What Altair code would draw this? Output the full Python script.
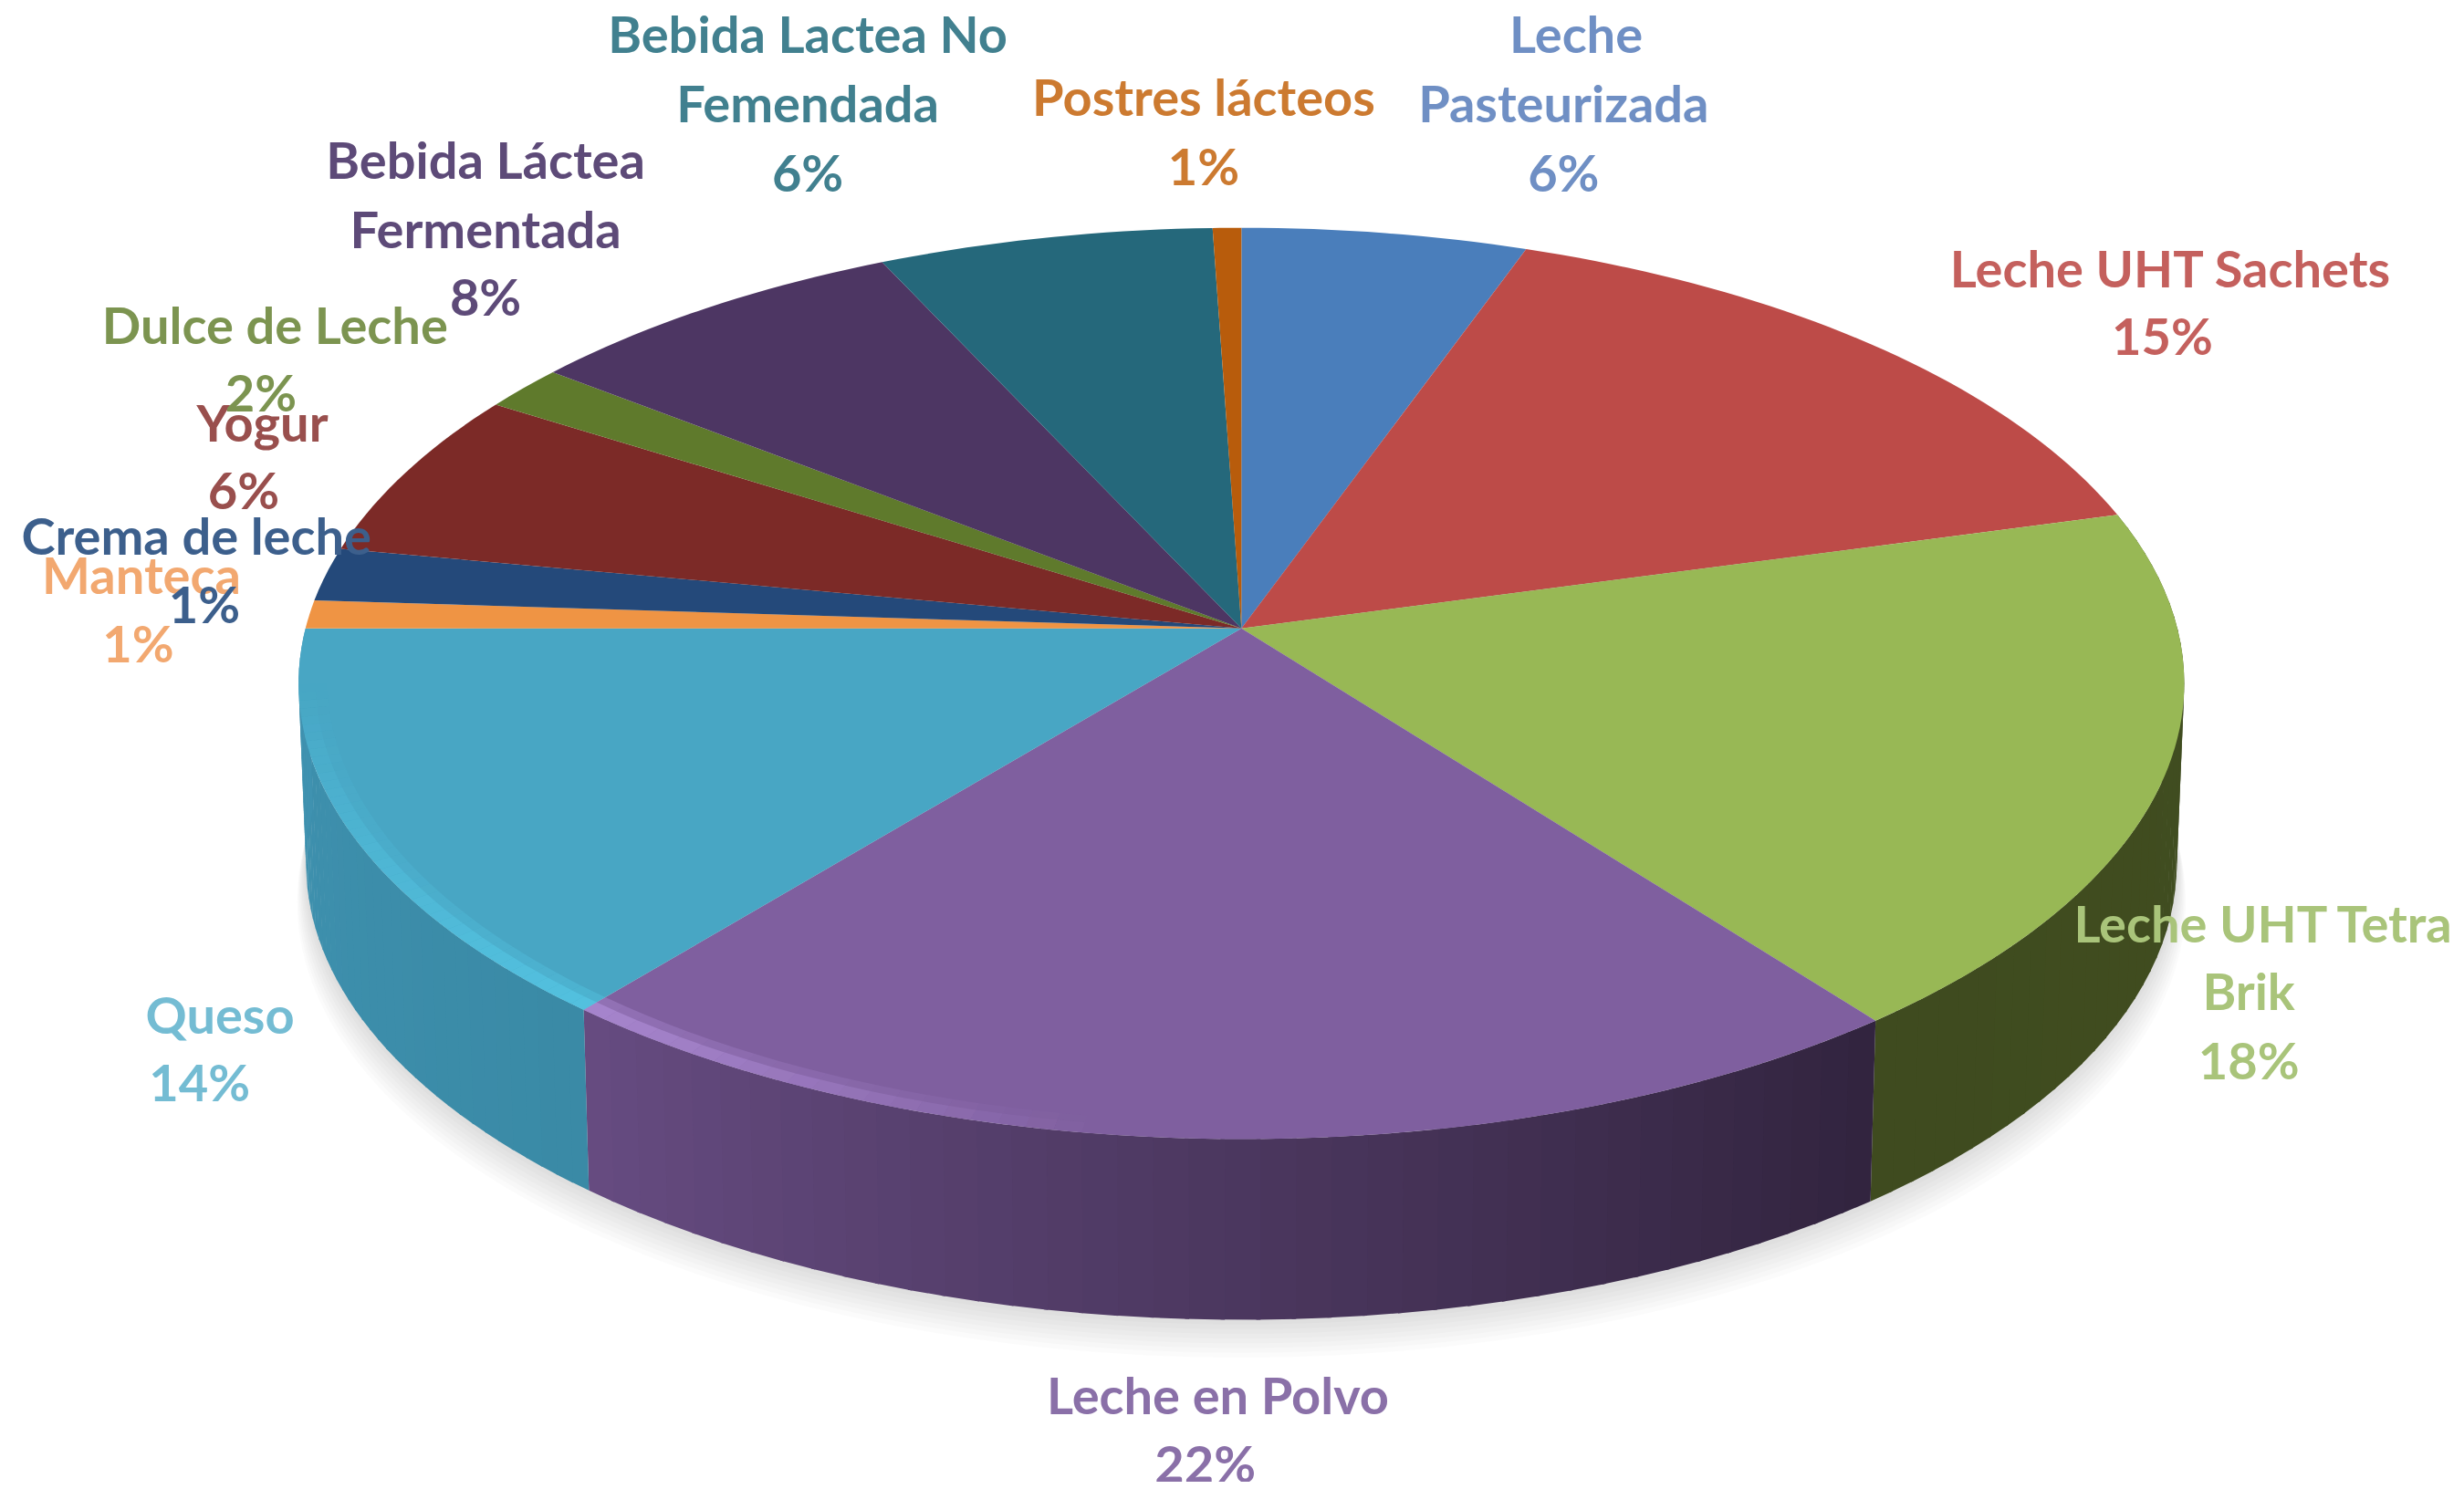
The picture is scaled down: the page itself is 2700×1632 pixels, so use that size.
import math
import altair as alt

# ---- chart values (shares; the printed labels are rounded)
categories = ["Leche Pasteurizada", "Leche UHT Sachets", "Leche UHT Tetra Brik", "Leche en Polvo",
              "Queso", "Manteca", "Crema de leche", "Yogur", "Dulce de Leche",
              "Bebida Láctea Fermentada", "Bebida Lactea No Femendada", "Postres lácteos"]
shares = [5.5, 15.3, 18.7, 21.5, 14.0, 1.0, 1.9, 6.0, 1.6, 7.5, 6.45, 0.55]
top_colors = ["#4a7ebb", "#bd4b48", "#98b855", "#7f5f9f", "#48a6c4", "#ef9444",
              "#24497a", "#7c2a27", "#5f7a2c", "#4d3663", "#25687b", "#b85c0c"]
# wall colour at the start and at the end of each visible slice
wall_start = {2: "#414e20", 3: "#32243f", 4: "#3a8aa6"}
wall_end = {2: "#3f4b1f", 3: "#674c82", 4: "#3f92b0"}
rim_light = {3: "#b08ed8", 4: "#55c6e4"}

# label lines
label_text = ["Leche", "Pasteurizada", "6%", "Leche UHT Sachets", "15%", "Leche UHT Tetra", "Brik", "18%",
              "Leche en Polvo", "22%", "Queso", "14%", "Manteca", "1%", "Crema de leche", "1%",
              "Yogur", "6%", "Dulce de Leche", "2%", "Bebida Láctea", "Fermentada", "8%",
              "Bebida Lactea No", "Femendada", "6%", "Postres lácteos", "1%"]
label_colors = ["#6f8fc4"] * 3 + ["#c4605d"] * 2 + ["#a9c47a"] * 3 + ["#8a70a8"] * 2 + ["#74bcd3"] * 2 + \
               ["#f2a870"] * 2 + ["#3c5f8c"] * 2 + ["#994f4d"] * 2 + ["#7c9450"] * 2 + ["#5d4a78"] * 3 + \
               ["#41808f"] * 3 + ["#cc7a30"] * 2
label_x = [1003, 995, 995, 1381, 1376, 1440, 1431, 1431, 775, 767, 140, 127, 90, 88, 125, 130,
           167, 155, 175, 166, 309, 309, 309, 514, 514, 514, 766, 766]
label_y = [24, 68, 112, 173, 216, 590, 633, 677, 890, 934, 648, 691, 368, 412, 343, 387,
           271, 314, 209, 252, 104, 148, 191, 24, 68, 112, 64, 108]

# ---- perspective view of the disc, in units of the 1568-wide picture
CX, CY, A, B, K = 790.0, 400.0, 595.6, 285.8, 0.1207
DEPTH = 115.0
UNIT = 2700 / 1568
W, H = 2684, 1616


def view(angle, r=1.0):
    u, v = r * math.sin(angle), -r * math.cos(angle)
    w = 1 - K * v
    return [CX + A * u / w, CY + B * v / w]


def lower(p):
    return [CX + (p[0] - CX) * 0.992, p[1] + DEPTH]


def hex2rgb(c):
    return [int(c[i:i + 2], 16) for i in (1, 3, 5)]


def mix(c1, c2, t):
    a, b = hex2rgb(c1), hex2rgb(c2)
    return "#%02x%02x%02x" % tuple(round(a[i] + (b[i] - a[i]) * t) for i in range(3))


def feature(ring, color, opacity=1.0):
    ring = ring + [ring[0]]
    return {"type": "Feature", "geometry": {"type": "Polygon", "coordinates": [ring]},
            "properties": {"color": color, "opacity": opacity}}


edges = [0.0]
for p in shares:
    edges.append(edges[-1] + p / sum(shares) * 2 * math.pi)

features = []
# soft shadow below the disc
full = [i / 180 * math.pi for i in range(360)]
for i in range(8, 0, -1):
    ring = []
    for a in full:
        p = lower(view(a))
        ring.append([CX + (p[0] - CX) * (1 + 0.0012 * i), p[1] + 3.0 * i])
    features.append(feature(ring, "#70707c", 0.03))

# side wall
for idx, s in wall_start.items():
    a0, a1 = edges[idx], edges[idx + 1]
    if idx == 4:
        a1 = min(a1, 1.5 * math.pi + 0.2)
    n = 40
    for j in range(n):
        t0, t1 = j / n, (j + 1.12) / n
        b0, b1 = a0 + (a1 - a0) * t0, a0 + (a1 - a0) * min(t1, 1)
        p0, p1 = view(b0), view(b1)
        features.append(feature([p0, p1, lower(p1), lower(p0)], mix(s, wall_end[idx], j / n)))

# top of the disc
for idx in range(len(shares)):
    a0, a1 = edges[idx], edges[idx + 1]
    n = max(4, int(shares[idx] * 3))
    ring = [[CX, CY]] + [view(a0 + (a1 - a0) * j / n) for j in range(n + 1)]
    features.append(feature(ring, top_colors[idx]))

# light bevel along the near rim, drawn in two widths so that it looks soft
for idx, c in rim_light.items():
    a0, a1 = edges[idx], edges[idx + 1]
    n = 50
    for inner, strength in ((0.97, 0.4), (0.982, 0.7)):
        for j in range(n):
            b0, b1 = a0 + (a1 - a0) * j / n, a0 + (a1 - a0) * (j + 1) / n
            if idx == 3:
                o = max(0.0, 1 - ((a1 - b0) / (a1 - a0)) / 0.42)
            else:
                o = max(0.0, 1 - ((b0 - a0) / (a1 - a0)) / 0.85)
            if o > 0:
                features.append(feature([view(b0), view(b1), view(b1, inner), view(b0, inner)], c,
                                        round(o * strength, 3)))

shapes = alt.Chart(alt.Data(values=features)).mark_geoshape(strokeWidth=0).encode(
    fill=alt.Color("properties.color:N", scale=None, legend=None),
    opacity=alt.Opacity("properties.opacity:Q", scale=None, legend=None),
).project(type="identity", scale=UNIT, translate=[-8, -8])

label_rows = [{"text": t, "color": c, "px": x, "py": y}
              for t, c, x, y in zip(label_text, label_colors, label_x, label_y)]
x_scale = alt.Scale(domain=[8 / UNIT, (W + 8) / UNIT], range=[0, W])
y_scale = alt.Scale(domain=[8 / UNIT, (H + 8) / UNIT], range=[0, H])
texts = alt.Chart(alt.Data(values=label_rows)).mark_text(
    font="Lato", fontWeight="bold", fontSize=56, align="center", baseline="middle"
).encode(
    x=alt.X("px:Q", scale=x_scale, axis=None),
    y=alt.Y("py:Q", scale=y_scale, axis=None),
    text="text:N",
    color=alt.Color("color:N", scale=None, legend=None),
)

chart = alt.layer(shapes, texts).properties(
    width=W, height=H, padding=0, autosize=alt.AutoSizeParams(type="none")
).configure_view(stroke=None)

chart.save("out.html", embed_options={"renderer": "svg", "actions": False})
